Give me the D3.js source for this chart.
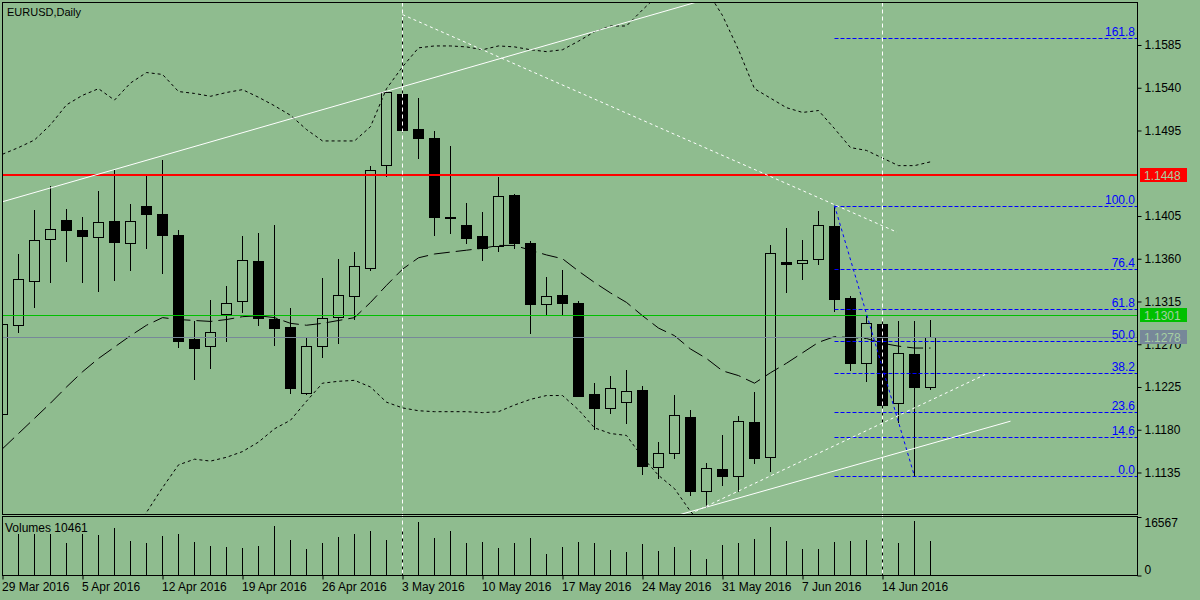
<!DOCTYPE html>
<html>
<head>
<meta charset="utf-8">
<script src="https://cdn.jsdelivr.net/npm/d3@7"></script>
<style>
  body { margin: 0; background: #8fbc8f; }
  svg text { font-family: "Liberation Sans", Arial, sans-serif; font-size: 12px; }
</style>
</head>
<body>
<script>
// EURUSD daily, 29 Mar 2016 .. 17 Jun 2016 (59 bars)
const dateTicks = [0, 5, 10, 15, 20, 25, 30, 35, 40, 45, 50, 55];
const dateLabels = ['29 Mar 2016', '5 Apr 2016', '12 Apr 2016', '19 Apr 2016', '26 Apr 2016', '3 May 2016',
  '10 May 2016', '17 May 2016', '24 May 2016', '31 May 2016', '7 Jun 2016', '14 Jun 2016'];

const open = [1.1197, 1.1290, 1.1337, 1.1381, 1.1401, 1.1390, 1.1383, 1.1400, 1.1377, 1.1415,
  1.1407, 1.1385, 1.1275, 1.1268, 1.1302, 1.1315, 1.1358, 1.1297, 1.1288, 1.1219,
  1.1268, 1.1299, 1.1321, 1.1350, 1.1459, 1.1533, 1.1497, 1.1487, 1.1404, 1.1396,
  1.1384, 1.1373, 1.1427, 1.1377, 1.1312, 1.1322, 1.1313, 1.1218, 1.1203, 1.1209,
  1.1222, 1.1141, 1.1155, 1.1193, 1.1115, 1.1139, 1.1131, 1.1188, 1.1151, 1.1357,
  1.1356, 1.1360, 1.1394, 1.1319, 1.1250, 1.1291, 1.1208, 1.1260, 1.1225];
const high = [1.1300, 1.1366, 1.1412, 1.1438, 1.1413, 1.1405, 1.1432, 1.1455, 1.1419, 1.1448,
  1.1465, 1.1391, 1.1296, 1.1318, 1.1332, 1.1385, 1.1388, 1.1397, 1.1309, 1.1279,
  1.1341, 1.1361, 1.1368, 1.1459, 1.1538, 1.1617, 1.1530, 1.1495, 1.1480, 1.1420,
  1.1410, 1.1447, 1.1429, 1.1380, 1.1342, 1.1349, 1.1317, 1.1230, 1.1238, 1.1244,
  1.1227, 1.1168, 1.1218, 1.1202, 1.1146, 1.1175, 1.1195, 1.1221, 1.1375, 1.1393,
  1.1381, 1.1411, 1.1416, 1.1322, 1.1301, 1.1299, 1.1295, 1.1296, 1.1297];
const low = [1.1190, 1.1283, 1.1309, 1.1335, 1.1358, 1.1336, 1.1326, 1.1338, 1.1348, 1.1371,
  1.1345, 1.1267, 1.1233, 1.1245, 1.1273, 1.1304, 1.1290, 1.1269, 1.1219, 1.1218,
  1.1257, 1.1271, 1.1297, 1.1348, 1.1447, 1.1493, 1.1466, 1.1385, 1.1387, 1.1377,
  1.1359, 1.1368, 1.1371, 1.1282, 1.1302, 1.1302, 1.1215, 1.1181, 1.1198, 1.1187,
  1.1133, 1.1129, 1.1150, 1.1111, 1.1099, 1.1122, 1.1115, 1.1145, 1.1137, 1.1325,
  1.1339, 1.1354, 1.1305, 1.1243, 1.1231, 1.1188, 1.1188, 1.1131, 1.1223];
const close = [1.1291, 1.1339, 1.1380, 1.1391, 1.1390, 1.1384, 1.1399, 1.1378, 1.1400, 1.1407,
  1.1385, 1.1273, 1.1266, 1.1283, 1.1313, 1.1359, 1.1298, 1.1287, 1.1224, 1.1268,
  1.1298, 1.1322, 1.1352, 1.1453, 1.1535, 1.1495, 1.1487, 1.1404, 1.1403, 1.1382,
  1.1371, 1.1426, 1.1377, 1.1312, 1.1321, 1.1313, 1.1216, 1.1203, 1.1224, 1.1221,
  1.1142, 1.1156, 1.1195, 1.1115, 1.1140, 1.1131, 1.1189, 1.1150, 1.1366, 1.1354,
  1.1359, 1.1395, 1.1318, 1.1250, 1.1292, 1.1206, 1.1261, 1.1225, 1.1278];
const volume = [12000, 12680, 12610, 12720, 9780, 12675, 12375, 14371, 10579, 9980,
  12076, 12675, 10279, 9082, 8782, 8483, 9082, 15070, 10878, 8184,
  9980, 11776, 12675, 13573, 10878, 14172, 16380, 11477, 13573, 9980,
  10279, 8483, 9980, 11477, 6687, 8782, 10279, 9980, 7884, 7086,
  9681, 7585, 8782, 7884, 4890, 9381, 9980, 11178, 14770, 10579,
  8184, 8184, 10279, 10579, 10878, 11477, 9980, 16567, 10461];

// Bollinger bands
const bbUpper = [1.1470, 1.1477, 1.1485, 1.1501, 1.1522, 1.1532, 1.1539, 1.1527, 1.1545, 1.1556,
  1.1554, 1.1536, 1.1534, 1.1531, 1.1535, 1.1538, 1.1530, 1.1521, 1.1511, 1.1496,
  1.1484, 1.1484, 1.1484, 1.1499, 1.1539, 1.1562, 1.1582, 1.1584, 1.1584, 1.1583,
  1.1580, 1.1584, 1.1583, 1.1580, 1.1578, 1.1580, 1.1589, 1.1599, 1.1605, 1.1605,
  1.1622, 1.1638, 1.1654, 1.1659, 1.1643, 1.1616, 1.1580, 1.1539, 1.1529, 1.1519,
  1.1514, 1.1516, 1.1497, 1.1477, 1.1474, 1.1466, 1.1458, 1.1458, 1.1462];
const bbMiddle = [1.1160, 1.1176, 1.1192, 1.1208, 1.1225, 1.1241, 1.1255, 1.1267, 1.1279, 1.1290,
  1.1298, 1.1296, 1.1295, 1.1294, 1.1296, 1.1299, 1.1300, 1.1298, 1.1292, 1.1290,
  1.1292, 1.1295, 1.1298, 1.1314, 1.1332, 1.1349, 1.1361, 1.1365, 1.1367, 1.1369,
  1.1371, 1.1374, 1.1374, 1.1369, 1.1364, 1.1360, 1.1347, 1.1335, 1.1324, 1.1314,
  1.1300, 1.1287, 1.1279, 1.1265, 1.1255, 1.1242, 1.1237, 1.1229, 1.1240, 1.1250,
  1.1261, 1.1272, 1.1278, 1.1277, 1.1276, 1.1271, 1.1268, 1.1266, 1.1266];
const bbLower = [1.1001, 1.1011, 1.1022, 1.1032, 1.1043, 1.1053, 1.1059, 1.1064, 1.1068, 1.1093,
  1.1119, 1.1143, 1.1149, 1.1147, 1.1151, 1.1157, 1.1167, 1.1181, 1.1190, 1.1210,
  1.1229, 1.1231, 1.1232, 1.1225, 1.1209, 1.1203, 1.1200, 1.1199, 1.1199, 1.1199,
  1.1198, 1.1199, 1.1206, 1.1212, 1.1216, 1.1216, 1.1201, 1.1182, 1.1176, 1.1174,
  1.1151, 1.1132, 1.1118, 1.1094, 1.1075, 1.1053, 1.1043, 1.1032, 1.1022, 1.1027,
  1.1032, 1.1038, 1.1043, 1.1043, 1.1048, 1.1053, 1.1059, 1.1059, 1.1059];

const priceTicks = [1.1585, 1.1540, 1.1495, 1.1405, 1.1360, 1.1315, 1.1270, 1.1225, 1.1180, 1.1135];
const volTicks = [16567, 0];

// Fibonacci retracement from 9 Jun high to 16 Jun low
const fibLevels = [0, 14.6, 23.6, 38.2, 50, 61.8, 76.4, 100, 161.8];
const fibHigh = { bar: 52, price: 1.1416 };
const fibLow = { bar: 57, price: 1.1131 };

const redLevel = 1.1448;
const greenLevel = 1.1301;

// trend lines: [bar, price] anchors
const whiteLines = [
  { a: [0, 1.1420], b: [45, 1.1638], dash: null },
  { a: [25, 1.1617], b: [55.9, 1.1388], dash: '3,3' },
  { a: [42.2, 1.1090], b: [63.0, 1.1189], dash: null },
  { a: [43.3, 1.1094], b: [61.4, 1.1238], dash: '3,3' }
];
const vLines = [25, 55];

const bg = '#8fbc8f';
const mainTop = 2.5, mainBottom = 514.5, volTop = 516.5, volBottom = 575.5;
const paneLeft = 2.5, paneRight = 1137.5;

const x = d3.scaleLinear().domain([0, 58]).range([2.5, 930.5]);
const y = d3.scaleLinear().domain([1.10913, 1.16292]).range([514, 3]);
const vy = d3.scaleLinear().domain([0, 16567]).range([575.5, 521]);
const crisp = v => Math.round(v) + 0.5;

const bars = open.map((o, i) => ({ i, o, h: high[i], l: low[i], c: close[i], v: volume[i] }));

const svg = d3.select('body').append('svg')
  .attr('width', 1200).attr('height', 600);

svg.append('rect').attr('width', 1200).attr('height', 600).attr('fill', bg);

const defs = svg.append('defs');
defs.append('clipPath').attr('id', 'clipMain')
  .append('rect').attr('x', paneLeft).attr('y', mainTop)
  .attr('width', paneRight - paneLeft).attr('height', mainBottom - mainTop);
defs.append('clipPath').attr('id', 'clipVol')
  .append('rect').attr('x', paneLeft).attr('y', volTop)
  .attr('width', paneRight - paneLeft).attr('height', volBottom - volTop);

const mainG = svg.append('g').attr('clip-path', 'url(#clipMain)');
const volG = svg.append('g').attr('clip-path', 'url(#clipVol)');

// candles
const candle = mainG.append('g').selectAll('g')
  .data(bars).join('g');

candle.append('line')
  .attr('x1', d => x(d.i)).attr('x2', d => x(d.i))
  .attr('y1', d => crisp(y(d.h))).attr('y2', d => crisp(y(d.l)))
  .attr('stroke', '#000').attr('shape-rendering', 'crispEdges');

candle.append('rect')
  .attr('x', d => x(d.i) - 5)
  .attr('width', 10)
  .attr('y', d => crisp(y(Math.max(d.o, d.c))))
  .attr('height', d => Math.max(crisp(y(Math.min(d.o, d.c))) - crisp(y(Math.max(d.o, d.c))), 1))
  .attr('fill', d => d.c >= d.o ? bg : '#000')
  .attr('stroke', '#000')
  .attr('shape-rendering', 'crispEdges');

// bollinger bands
const bandLine = d3.line().x((d, i) => x(i)).y(d => y(d));
[[bbUpper, '3,3'], [bbLower, '3,3'], [bbMiddle, '16,6']].forEach(([vals, dash]) => {
  mainG.append('path')
    .attr('d', bandLine(vals))
    .attr('fill', 'none')
    .attr('stroke', '#000')
    .attr('stroke-width', 1)
    .attr('stroke-dasharray', dash);
});

// horizontal levels
mainG.append('line')
  .attr('x1', paneLeft).attr('x2', paneRight)
  .attr('y1', Math.round(y(redLevel))).attr('y2', Math.round(y(redLevel)))
  .attr('stroke', '#ff0000').attr('stroke-width', 2);
mainG.append('line')
  .attr('x1', paneLeft).attr('x2', paneRight)
  .attr('y1', crisp(y(greenLevel))).attr('y2', crisp(y(greenLevel)))
  .attr('stroke', '#00c000');
mainG.append('line')
  .attr('x1', paneLeft).attr('x2', paneRight)
  .attr('y1', crisp(y(close[58]))).attr('y2', crisp(y(close[58])))
  .attr('stroke', '#778899');

// fibonacci
const fibPrice = lv => fibLow.price + (fibHigh.price - fibLow.price) * lv / 100;
mainG.append('g').selectAll('line')
  .data(fibLevels).join('line')
  .attr('x1', x(fibHigh.bar)).attr('x2', paneRight)
  .attr('y1', d => crisp(y(fibPrice(d)))).attr('y2', d => crisp(y(fibPrice(d))))
  .attr('stroke', '#0000ff').attr('stroke-dasharray', '4,2');
mainG.append('g').selectAll('text')
  .data(fibLevels).join('text')
  .attr('x', 1135).attr('y', d => crisp(y(fibPrice(d))) - 3)
  .attr('text-anchor', 'end')
  .attr('fill', '#0000ff')
  .text(d => d.toFixed(1));
mainG.append('line')
  .attr('x1', x(fibHigh.bar)).attr('y1', y(fibHigh.price))
  .attr('x2', x(fibLow.bar)).attr('y2', y(fibLow.price))
  .attr('stroke', '#0000ff').attr('stroke-dasharray', '3,3');

// trend lines
mainG.append('g').selectAll('line')
  .data(whiteLines).join('line')
  .attr('x1', d => x(d.a[0])).attr('y1', d => y(d.a[1]))
  .attr('x2', d => x(d.b[0])).attr('y2', d => y(d.b[1]))
  .attr('stroke', '#fff')
  .attr('stroke-dasharray', d => d.dash);

// volumes
volG.append('g').selectAll('line')
  .data(bars).join('line')
  .attr('x1', d => x(d.i)).attr('x2', d => x(d.i))
  .attr('y1', d => vy(d.v)).attr('y2', volBottom)
  .attr('stroke', '#000').attr('shape-rendering', 'crispEdges');

// vertical dashed lines across both panes
svg.append('g').selectAll('line')
  .data(vLines).join('line')
  .attr('x1', d => x(d)).attr('x2', d => x(d))
  .attr('y1', mainTop).attr('y2', volBottom)
  .attr('stroke', '#fff').attr('stroke-dasharray', '4,3');

// pane frames
[[mainTop, mainBottom], [volTop, volBottom]].forEach(([t, b]) => {
  svg.append('rect')
    .attr('x', paneLeft).attr('y', t)
    .attr('width', paneRight - paneLeft).attr('height', b - t)
    .attr('fill', 'none').attr('stroke', '#000')
    .attr('shape-rendering', 'crispEdges');
});

// price axis
const yAxis = svg.append('g')
  .attr('transform', `translate(${paneRight},0)`)
  .call(d3.axisRight(y).tickValues(priceTicks).tickSize(4).tickFormat(d3.format('.4f')));
yAxis.select('.domain').remove();
yAxis.selectAll('line').attr('stroke', '#000');
yAxis.selectAll('text').attr('fill', '#000').attr('font-family', null).attr('font-size', null);

// volume axis
const vAxis = svg.append('g')
  .attr('transform', `translate(${paneRight},0)`)
  .call(d3.axisRight(vy).tickValues(volTicks).tickSize(4).tickFormat(d3.format('d')));
vAxis.select('.domain').remove();
vAxis.selectAll('.tick line').attr('y1', d => d === 0 ? 0 : -4).attr('y2', d => d === 0 ? 0 : -4);
vAxis.selectAll('text').attr('fill', '#000').attr('font-family', null).attr('font-size', null)
  .attr('y', d => d === 0 ? -6 : 2);

// date axis
const xAxis = svg.append('g')
  .attr('transform', `translate(0,${volBottom})`)
  .call(d3.axisBottom(x).tickValues(dateTicks).tickSize(4).tickFormat((d, k) => dateLabels[k]));
xAxis.select('.domain').remove();
xAxis.selectAll('line').attr('stroke', '#000');
xAxis.selectAll('text').attr('fill', '#000').attr('text-anchor', 'start').attr('x', -1)
  .attr('font-family', null).attr('font-size', null);

// price markers on the axis
const markers = [
  { p: redLevel, color: '#ff0000' },
  { p: greenLevel, color: '#00c000' },
  { p: close[58], color: '#778899' }
];
const mk = svg.append('g').selectAll('g').data(markers).join('g');
mk.append('rect')
  .attr('x', 1140).attr('width', 47)
  .attr('y', d => Math.round(y(d.p)) - 7).attr('height', 14)
  .attr('fill', d => d.color);
mk.append('text')
  .attr('x', 1144).attr('y', d => Math.round(y(d.p)) + 4.5)
  .attr('fill', '#a6cfa2')
  .text(d => d.p.toFixed(4));

// titles
svg.append('text').attr('x', 7).attr('y', 16).style('font-size', '11px').text('EURUSD,Daily');
svg.append('text').attr('x', 5).attr('y', 532).text('Volumes ' + volume[58]);
</script>
</body>
</html>
